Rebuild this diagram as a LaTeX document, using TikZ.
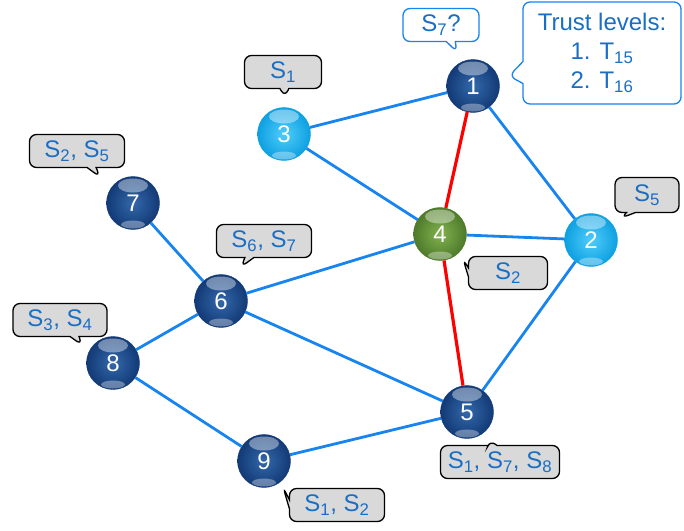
\documentclass[tikz,border=0pt]{standalone}
\usepackage{fontspec}
\setmainfont{Liberation Sans}
\usetikzlibrary{shapes.callouts}
\definecolor{linkblue}{RGB}{24,132,240}
\definecolor{textblue}{RGB}{26,110,196}
\definecolor{tagfill}{RGB}{217,217,217}
\definecolor{navyin}{RGB}{52,104,170}
\definecolor{navyout}{RGB}{18,58,118}
\definecolor{skyin}{RGB}{80,205,250}
\definecolor{skyout}{RGB}{14,160,225}
\definecolor{leafin}{RGB}{130,178,80}
\definecolor{leafout}{RGB}{78,122,42}
\newcommand\sid[1]{S\textsubscript{#1}}
\begin{document}
\begin{tikzpicture}[x=1pt,y=-1pt,
    ball/.style={circle,minimum size=53pt,inner sep=0pt,text=white,font=\fontsize{24}{28}\selectfont,
      path picture={
        \fill[white,opacity=.4] ([yshift=-9pt]path picture bounding box.north) ellipse [x radius=15pt,y radius=7pt];
        \fill[white,opacity=.35] ([yshift=5pt]path picture bounding box.south) ellipse [x radius=12pt,y radius=4pt];}},
    navy/.style={ball,draw=navyout,inner color=navyin,outer color=navyout},
    sky/.style={ball,draw=skyout,inner color=skyin,outer color=skyout},
    leaf/.style={ball,draw=leafout,inner color=leafin,outer color=leafout},
    link/.style={draw=linkblue,line width=2.8pt},
    path/.style={draw=red,line width=3.2pt},
    tag/.style={rectangle callout,draw=black,fill=tagfill,line width=1.3pt,rounded corners=7pt,
      minimum height=33pt,inner xsep=6pt,text=textblue,font=\fontsize{24}{29}\selectfont,
      callout pointer width=9pt},
    query/.style={tag,draw=linkblue,fill=white}]
  \useasboundingbox (0,0) rectangle (684,530);
  \node[navy] (1) at (473,86) {1};
  \node[sky] (2) at (591,240) {2};
  \node[sky] (3) at (284,134) {3};
  \node[leaf] (4) at (440,234) {4};
  \node[navy] (5) at (467,412) {5};
  \node[navy] (6) at (221,301) {6};
  \node[navy] (7) at (133,203) {7};
  \node[navy] (8) at (113,363) {8};
  \node[navy] (9) at (264,461) {9};
  \path[link] (3) -- (1) (3) -- (4) (1) -- (2) (4) -- (2) (2) -- (5) (7) -- (6)
    (6) -- (4) (6) -- (8) (6) -- (5) (8) -- (9) (9) -- (5);
  \path[path] (1) -- (4) -- (5);
  \node[query,minimum width=76pt,callout absolute pointer={(457,52)}] (q1) at (441,25) {\sid{7}?};
  \node[query,minimum width=158pt,minimum height=102pt,align=center,callout pointer width=22pt,
    callout absolute pointer={(509,76)}] (trust) at (602,53) {Trust levels:\\1. T\textsubscript{15}\\2. T\textsubscript{16}};
  \node[tag,minimum width=77pt,callout absolute pointer={(285,97)}] (t3) at (283,72) {\sid{1}};
  \node[tag,minimum width=95pt,callout absolute pointer={(100,177)}] (t7) at (77,151) {\sid{2}, \sid{5}};
  \node[tag,minimum width=95pt,callout absolute pointer={(241,267)}] (t6) at (264,241) {\sid{6}, \sid{7}};
  \node[tag,minimum width=79pt,callout absolute pointer={(463,259)}] (t4) at (508,273) {\sid{2}};
  \node[tag,minimum width=64pt,minimum height=35pt,callout absolute pointer={(621,218)}] (t2) at (647,195) {\sid{5}};
  \node[tag,minimum width=94pt,callout absolute pointer={(82,345)}] (t8) at (60,320) {\sid{3}, \sid{4}};
  \node[tag,minimum width=119pt,callout absolute pointer={(490,440)}] (t5) at (500,462) {\sid{1}, \sid{7}, \sid{8}};
  \node[tag,minimum width=95pt,callout absolute pointer={(283,487)}] (t9) at (337,505) {\sid{1}, \sid{2}};
\end{tikzpicture}
\end{document}
